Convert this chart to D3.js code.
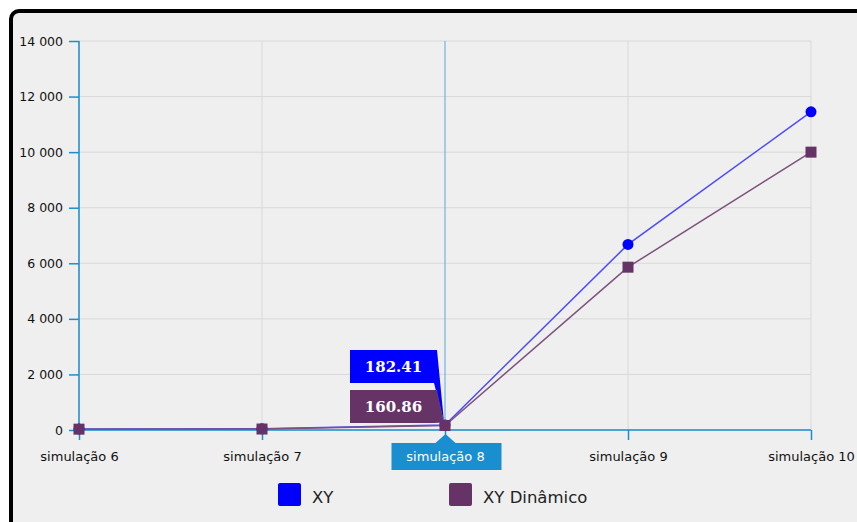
<!DOCTYPE html>
<html>
<head>
<meta charset="utf-8">
<script src="https://cdn.jsdelivr.net/npm/d3@7"></script>
<style>
  html, body { margin: 0; padding: 0; background: #ffffff; overflow: hidden; }
  #box {
    position: absolute; left: 9px; top: 9px; width: 900px; height: 560px;
    border: 4px solid #000; border-top-left-radius: 10px; background: #efefef;
  }
  svg { position: absolute; left: 0; top: 0; }
</style>
</head>
<body>
<div id="box"></div>
<div id="chart"></div>
<script>
const categories = ["simulação 6", "simulação 7", "simulação 8", "simulação 9", "simulação 10"];
const xyValues = [40, 45, 182.41, 6680, 11450];
const xyDinValues = [30, 35, 160.86, 5860, 10000];
const yTicks = [0, 2000, 4000, 6000, 8000, 10000, 12000, 14000];
const seriesNames = ["XY", "XY Dinâmico"];
const seriesColors = ["#0000ff", "#663366"];
const lineColors = ["#4a4aff", "#7d527d"];
const activeIndex = 2;

let totalWidth = 857, totalHeight = 522;
let mLeft = 79, mTop = 41, plotW = 732, plotH = 389;
let axisColor = "#1a8fcf";
let fontFam = "'DejaVu Sans', Verdana, sans-serif";

let svg = d3.select("#chart").append("svg")
        .attr("width", totalWidth)
        .attr("height", totalHeight);

let xScale = d3.scalePoint().domain(categories).range([0, plotW]);
let yScale = d3.scaleLinear().domain([0, 14000]).range([plotH, 0]);

let g = svg.append("g").attr("transform", "translate(" + mLeft + "," + mTop + ")");

// grid
g.append("g").selectAll("line").data(yTicks).enter().append("line")
        .attr("x1", 0).attr("x2", plotW)
        .attr("y1", d => yScale(d)).attr("y2", d => yScale(d))
        .attr("stroke", "#d9d9d9").attr("stroke-width", 1);
g.append("g").selectAll("line").data(categories).enter().append("line")
        .attr("x1", d => xScale(d)).attr("x2", d => xScale(d))
        .attr("y1", 0).attr("y2", plotH)
        .attr("stroke", (d, i) => i === activeIndex ? "#5aa8d6" : "#d9d9d9")
        .attr("stroke-width", 1);

// y axis
let yAxis = d3.axisLeft(yScale).tickValues(yTicks).tickSize(10).tickPadding(6)
        .tickFormat(d => d3.format(",")(d).replace(/,/g, " "));
let ay = g.append("g").call(yAxis);
ay.select(".domain").attr("stroke", axisColor).attr("stroke-width", 1.5).attr("d", "M0,0V" + plotH);
ay.selectAll(".tick line").attr("stroke", axisColor).attr("stroke-width", 1.5);
ay.selectAll("text").attr("font-family", fontFam).attr("font-size", 12.5).attr("fill", "#111");

// x axis
let xAxis = d3.axisBottom(xScale).tickSize(10);
let ax = g.append("g").attr("transform", "translate(0," + plotH + ")").call(xAxis);
ax.select(".domain").attr("stroke", axisColor).attr("stroke-width", 1.5).attr("d", "M0,0H" + plotW);
ax.selectAll(".tick line").attr("stroke", axisColor).attr("stroke-width", 1.5);
ax.selectAll("text").attr("font-family", fontFam).attr("font-size", 13)
        .attr("y", 31).attr("dy", null)
        .attr("fill", (d, i) => i === activeIndex ? "#fff" : "#111");

// active category label box
let ac = xScale(categories[activeIndex]);
ax.selectAll(".tick").filter((d, i) => i === activeIndex).each(function () {
    d3.select(this).insert("path", "text")
            .attr("d", "M-54,13H-10L0,4L10,13H56V40H-54Z")
            .attr("fill", "#1a8fcf");
});

// lines
let lineGen = d3.line().x((d, i) => xScale(categories[i])).y(d => yScale(d));
[xyValues, xyDinValues].forEach(function (vals, s) {
    g.append("path").datum(vals)
            .attr("d", lineGen)
            .attr("fill", "none")
            .attr("stroke", lineColors[s])
            .attr("stroke-width", 1.5);
});

// markers
g.append("g").selectAll("circle").data(xyValues).enter().append("circle")
        .attr("cx", (d, i) => xScale(categories[i]))
        .attr("cy", d => yScale(d))
        .attr("r", 5.5)
        .attr("fill", seriesColors[0]);
g.append("g").selectAll("rect").data(xyDinValues).enter().append("rect")
        .attr("x", (d, i) => xScale(categories[i]) - 5.5)
        .attr("y", d => yScale(d) - 5.5)
        .attr("width", 11).attr("height", 11)
        .attr("fill", seriesColors[1]);

// tooltips
let tips = [xyValues[activeIndex], xyDinValues[activeIndex]];
tips.forEach(function (v, s) {
    let px = ac, py = yScale(v);
    let bx = ac - 95, bw = 87, bh = 33;
    let by = (s === 0 ? 350 : 390) - mTop;
    g.append("path")
            .attr("d", "M" + bx + "," + by + "H" + (bx + bw) + "L" + (px - 1) + "," + (py - 3) +
                    "L" + (bx + bw - 3) + "," + (by + bh) + "H" + bx + "Z")
            .attr("fill", seriesColors[s]);
    g.append("text")
            .attr("x", bx + bw / 2).attr("y", by + bh / 2 + 5.5)
            .attr("text-anchor", "middle")
            .attr("font-family", "'DejaVu Serif', serif")
            .attr("font-weight", "bold")
            .attr("font-size", 15)
            .attr("fill", "#fff")
            .text(d3.format(".2f")(v));
});

// legend
let legendX = [278, 449];
let legend = svg.append("g");
seriesNames.forEach(function (name, s) {
    legend.append("rect")
            .attr("x", legendX[s]).attr("y", 483)
            .attr("width", 23).attr("height", 23).attr("rx", 2)
            .attr("fill", seriesColors[s]);
    legend.append("text")
            .attr("x", legendX[s] + 34).attr("y", 503)
            .attr("font-family", fontFam).attr("font-size", 16.5)
            .attr("fill", "#222")
            .text(name);
});
</script>
</body>
</html>
